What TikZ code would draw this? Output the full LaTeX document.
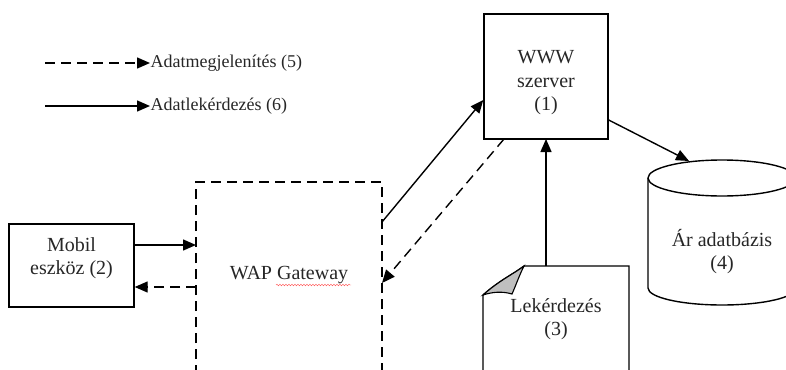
\documentclass[tikz,border=0pt]{standalone}
\usepackage{fontspec}
\setmainfont{Liberation Serif}
\newfontfamily\timesf{Liberation Serif}
\usetikzlibrary{arrows.meta,decorations.pathmorphing}
\begin{document}
\begin{tikzpicture}[x=1pt,y=-1pt,
  line width=1.4pt,
  tip/.style={-{Triangle[length=13pt,width=11pt]}},
  dsh/.style={dash pattern=on 10pt off 6pt},
  boxnode/.style={draw,rectangle,inner sep=0pt},
  lbl/.style={align=center,font=\timesf\fontsize{20}{23.5}\selectfont,inner sep=0pt,text=black!85},
  leg/.style={anchor=west,font=\timesf\fontsize{18}{21}\selectfont,inner sep=0pt,text=black!85}]
\useasboundingbox (0,0) rectangle (786,369);
\clip (0,0) rectangle (786,369);
% legend
\coordinate (l1a) at (45,63);
\coordinate (l1b) at (150,63);
\coordinate (l2a) at (45,106);
\coordinate (l2b) at (150,106);
\draw[tip,dsh] (l1a) -- (l1b);
\draw[tip] (l2a) -- (l2b);
\node[leg] (leg1) at (l1b) {Adatmegjelenítés (5)};
\node[leg] (leg2) at (l2b) {Adatlekérdezés (6)};
% WWW server
\node[boxnode,minimum width=124pt,minimum height=125pt] (www) at (546,76.5) {};
\node[lbl] (wwwt) at (546,83) {WWW\\szerver\\(1)};
% Mobil
\node[boxnode,minimum width=125pt,minimum height=83pt] (mob) at (71.5,265.5) {};
\node[lbl] (mobt) at (71.5,258) {Mobil\\eszköz (2)};
% WAP gateway
\draw[dsh] (196,375) -- (196,182) -- (382,182) -- (382,375);
\node[lbl] (wap) at (289,275) {WAP Gateway};
\draw[red!70,line width=0.4pt,decorate,decoration={snake,amplitude=0.8pt,segment length=3pt}] (276,285) -- (351,285);
% document
\draw[fill=white] (483,375) -- (483,295) .. controls (500,280) and (512,275) .. (524,266) -- (629,266) -- (629,375);
\draw[fill=black!25,line width=1.1pt] (483,295) .. controls (500,280) and (512,275) .. (524,266) .. controls (519,276) and (516,285) .. (512,294) .. controls (502,291) and (492,292) .. (483,295) -- cycle;
\node[lbl] (doc) at (556,319) {Lekérdezés\\(3)};
% cylinder
\draw (648,178) -- (648,288) arc[start angle=180,end angle=360,x radius=74,y radius=-17] -- (796,178);
\draw (722,178) ellipse[x radius=74,y radius=18];
\node[lbl] (db) at (722,251.5) {Ár adatbázis\\(4)};
\coordinate (dbtop) at (689,161);
% connectors
\coordinate (mobr1) at (mob.east |- 0,245);
\coordinate (wapl1) at (196,245);
\coordinate (mobr2) at (mob.east |- 0,287);
\coordinate (wapl2) at (196,287);
\draw[tip] (mobr1) -- (wapl1);
\draw[tip,dsh] (wapl2) -- (mobr2);
\coordinate (wapr1) at (382,222);
\coordinate (wwwl) at (www.west |- 0,100);
\draw[tip] (wapr1) -- (wwwl);
\coordinate (wwwb) at (504,139);
\coordinate (wapr2) at (382,283);
\draw[tip,dsh] (wwwb) -- (wapr2);
\coordinate (doctop) at (546,266);
\coordinate (wwwb2) at (546,139);
\draw[tip] (doctop) -- (wwwb2);
\coordinate (wwwr) at (www.east |- 0,120);
\draw[tip] (wwwr) -- (dbtop);
\end{tikzpicture}
\end{document}
